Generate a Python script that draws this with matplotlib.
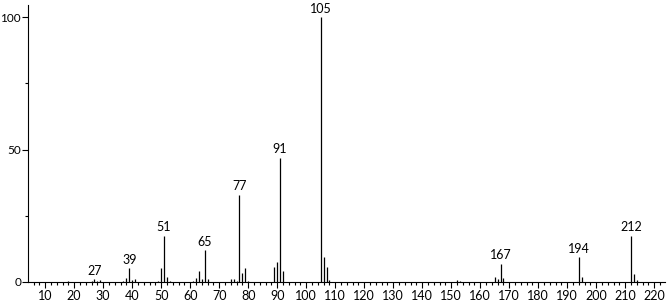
import matplotlib
matplotlib.use("Agg")
import matplotlib.pyplot as plt
import numpy as np

plt.rcParams['font.family'] = ['Lato', 'DejaVu Sans']

# m/z and relative intensity
mz = [18, 26, 27, 28, 29, 37, 38, 39, 40, 41, 49, 50, 51, 52, 53,
      61, 62, 63, 64, 65, 66, 74, 75, 76, 77, 78, 79, 80,
      89, 90, 91, 92, 105, 106, 107, 108, 152, 153,
      165, 166, 167, 168, 194, 195, 212, 213, 214]
intensity = [0.5, 0.5, 1.0, 0.5, 0.6, 0.5, 1.5, 5.2, 0.6, 1.0, 0.5, 5.2, 17.4, 2.0, 0.4,
             0.4, 1.5, 4.2, 1.0, 11.9, 1.0, 1.0, 1.2, 0.5, 33.0, 3.3, 5.2, 0.5,
             5.6, 7.7, 47.0, 4.2, 100.0, 9.6, 5.8, 0.6, 0.6, 0.4,
             1.8, 1.0, 6.8, 1.5, 9.3, 1.8, 17.4, 3.0, 0.6]
labelled = [27, 39, 51, 65, 77, 91, 105, 167, 194, 212]

fig = plt.figure(figsize=(6.72, 3.04), dpi=100)
ax = fig.add_axes([0.0417, 0.0724, 0.9475, 0.91])
ax.vlines(mz, 0, intensity, color='black', linewidth=0.9)
for m in labelled:
    h = intensity[mz.index(m)]
    ax.text(m, h + 1.0, str(m), ha='center', va='bottom', fontsize=9)

ax.set_xlim(4.1, 223.6)
ax.set_ylim(0, 104.5)
ax.set_xticks(np.arange(10, 221, 10))
ax.set_xticks(np.arange(6, 223, 2), minor=True)
ax.set_yticks([0, 50, 100])
ax.set_yticks([25, 75], minor=True)
ax.tick_params(axis='both', which='major', labelsize=9, length=4, width=0.8, pad=2)
ax.tick_params(axis='y', which='major', labelsize=8.5, pad=1)
ax.tick_params(axis='both', which='minor', length=2.5, width=0.8)
for s in ['top', 'right']:
    ax.spines[s].set_visible(False)
for s in ['left', 'bottom']:
    ax.spines[s].set_linewidth(0.8)
fig.savefig('out.png', dpi=100)
